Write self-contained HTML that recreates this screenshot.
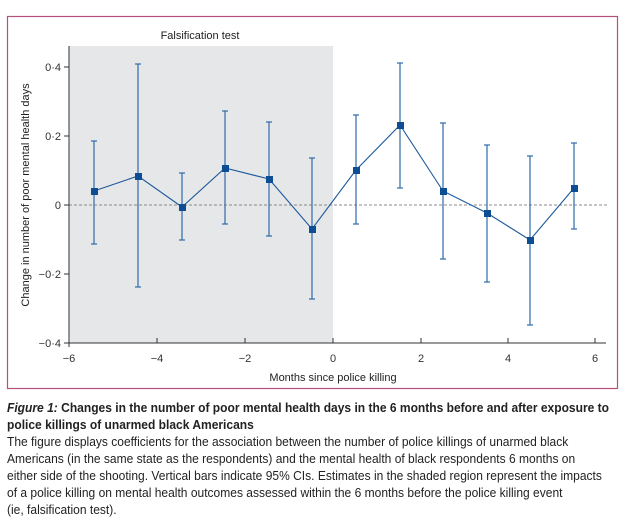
<!DOCTYPE html>
<html><head><meta charset="utf-8"><style>
body{margin:0;background:#fff;width:630px;height:524px;overflow:hidden;font-family:"Liberation Sans",sans-serif;}
.cap{position:absolute;left:7px;top:399px;width:820px;font-size:13px;line-height:17px;color:#222;white-space:nowrap;transform:scaleX(0.925);transform-origin:0 0;}
.cap b{font-weight:bold;}
</style></head><body>
<svg width="630" height="400" style="position:absolute;left:0;top:0" font-family="Liberation Sans, sans-serif">
<rect x="7.5" y="16.5" width="610" height="372" fill="none" stroke="#b5517d" stroke-width="1.2"/>
<rect x="69" y="46" width="264" height="297" fill="#e6e7e8"/>
<text x="200" y="39" font-size="11" text-anchor="middle" fill="#222">Falsification test</text>
<line x1="69" y1="205" x2="607" y2="205" stroke="#888" stroke-width="1" stroke-dasharray="3,2"/>
<line x1="69" y1="46" x2="69" y2="343" stroke="#333" stroke-width="1"/>
<line x1="69" y1="343" x2="606" y2="343" stroke="#333" stroke-width="1"/>
<g stroke="#333" stroke-width="1">
<line x1="64" y1="67" x2="69" y2="67"/><line x1="64" y1="136" x2="69" y2="136"/><line x1="64" y1="205" x2="69" y2="205"/><line x1="64" y1="274" x2="69" y2="274"/><line x1="64" y1="343" x2="69" y2="343"/>
<line x1="69" y1="338" x2="69" y2="347"/><line x1="157" y1="338" x2="157" y2="343"/><line x1="245" y1="338" x2="245" y2="343"/><line x1="333" y1="338" x2="333" y2="343"/><line x1="421" y1="338" x2="421" y2="343"/><line x1="508" y1="338" x2="508" y2="343"/><line x1="595" y1="338" x2="595" y2="343"/>
</g>
<g font-size="11" fill="#333" text-anchor="end">
<text x="61" y="71">0·4</text><text x="61" y="140">0·2</text><text x="61" y="209">0</text><text x="61" y="278">−0·2</text><text x="61" y="347">−0·4</text>
</g>
<g font-size="11" fill="#333" text-anchor="middle">
<text x="69" y="362">−6</text><text x="157" y="362">−4</text><text x="245" y="362">−2</text><text x="333" y="362">0</text><text x="421" y="362">2</text><text x="508" y="362">4</text><text x="595" y="362">6</text>
</g>
<text x="333" y="381" font-size="11" text-anchor="middle" fill="#222">Months since police killing</text>
<text transform="translate(29,195) rotate(-90)" font-size="11" text-anchor="middle" fill="#222">Change in number of poor mental health days</text>
<g stroke="#2e6aa8" stroke-width="1.2">
<line x1="94" y1="141" x2="94" y2="244"/><line x1="91" y1="141" x2="97" y2="141"/><line x1="91" y1="244" x2="97" y2="244"/>
<line x1="138" y1="64" x2="138" y2="287"/><line x1="135" y1="64" x2="141" y2="64"/><line x1="135" y1="287" x2="141" y2="287"/>
<line x1="182" y1="173" x2="182" y2="240"/><line x1="179" y1="173" x2="185" y2="173"/><line x1="179" y1="240" x2="185" y2="240"/>
<line x1="225" y1="111" x2="225" y2="224"/><line x1="222" y1="111" x2="228" y2="111"/><line x1="222" y1="224" x2="228" y2="224"/>
<line x1="269" y1="122" x2="269" y2="236"/><line x1="266" y1="122" x2="272" y2="122"/><line x1="266" y1="236" x2="272" y2="236"/>
<line x1="312" y1="158" x2="312" y2="299"/><line x1="309" y1="158" x2="315" y2="158"/><line x1="309" y1="299" x2="315" y2="299"/>
<line x1="356" y1="115" x2="356" y2="224"/><line x1="353" y1="115" x2="359" y2="115"/><line x1="353" y1="224" x2="359" y2="224"/>
<line x1="400" y1="63" x2="400" y2="188"/><line x1="397" y1="63" x2="403" y2="63"/><line x1="397" y1="188" x2="403" y2="188"/>
<line x1="443" y1="123" x2="443" y2="259"/><line x1="440" y1="123" x2="446" y2="123"/><line x1="440" y1="259" x2="446" y2="259"/>
<line x1="487" y1="145" x2="487" y2="282"/><line x1="484" y1="145" x2="490" y2="145"/><line x1="484" y1="282" x2="490" y2="282"/>
<line x1="530" y1="156" x2="530" y2="325"/><line x1="527" y1="156" x2="533" y2="156"/><line x1="527" y1="325" x2="533" y2="325"/>
<line x1="574" y1="143" x2="574" y2="229"/><line x1="571" y1="143" x2="577" y2="143"/><line x1="571" y1="229" x2="577" y2="229"/>
</g>
<polyline points="94,191 138,176 182,207 225,168 269,179 312,229 356,170 400,125 443,191 487,213 530,240 574,188" fill="none" stroke="#1f5a9c" stroke-width="1.1"/>
<g fill="#0d4d94">
<rect x="91" y="188" width="7" height="7"/><rect x="135" y="173" width="7" height="7"/><rect x="179" y="204" width="7" height="7"/><rect x="222" y="165" width="7" height="7"/><rect x="266" y="176" width="7" height="7"/><rect x="309" y="226" width="7" height="7"/>
<rect x="353" y="167" width="7" height="7"/><rect x="397" y="122" width="7" height="7"/><rect x="440" y="188" width="7" height="7"/><rect x="484" y="210" width="7" height="7"/><rect x="527" y="237" width="7" height="7"/><rect x="571" y="185" width="7" height="7"/>
</g>
</svg>
<div class="cap"><b><i>Figure 1:</i> Changes in the number of poor mental health days in the 6 months before and after exposure to<br>police killings of unarmed black Americans</b><br>The figure displays coefficients for the association between the number of police killings of unarmed black<br>Americans (in the same state as the respondents) and the mental health of black respondents 6 months on<br>either side of the shooting. Vertical bars indicate 95% CIs. Estimates in the shaded region represent the impacts<br>of a police killing on mental health outcomes assessed within the 6 months before the police killing event<br>(ie, falsification test).</div>
</body></html>
